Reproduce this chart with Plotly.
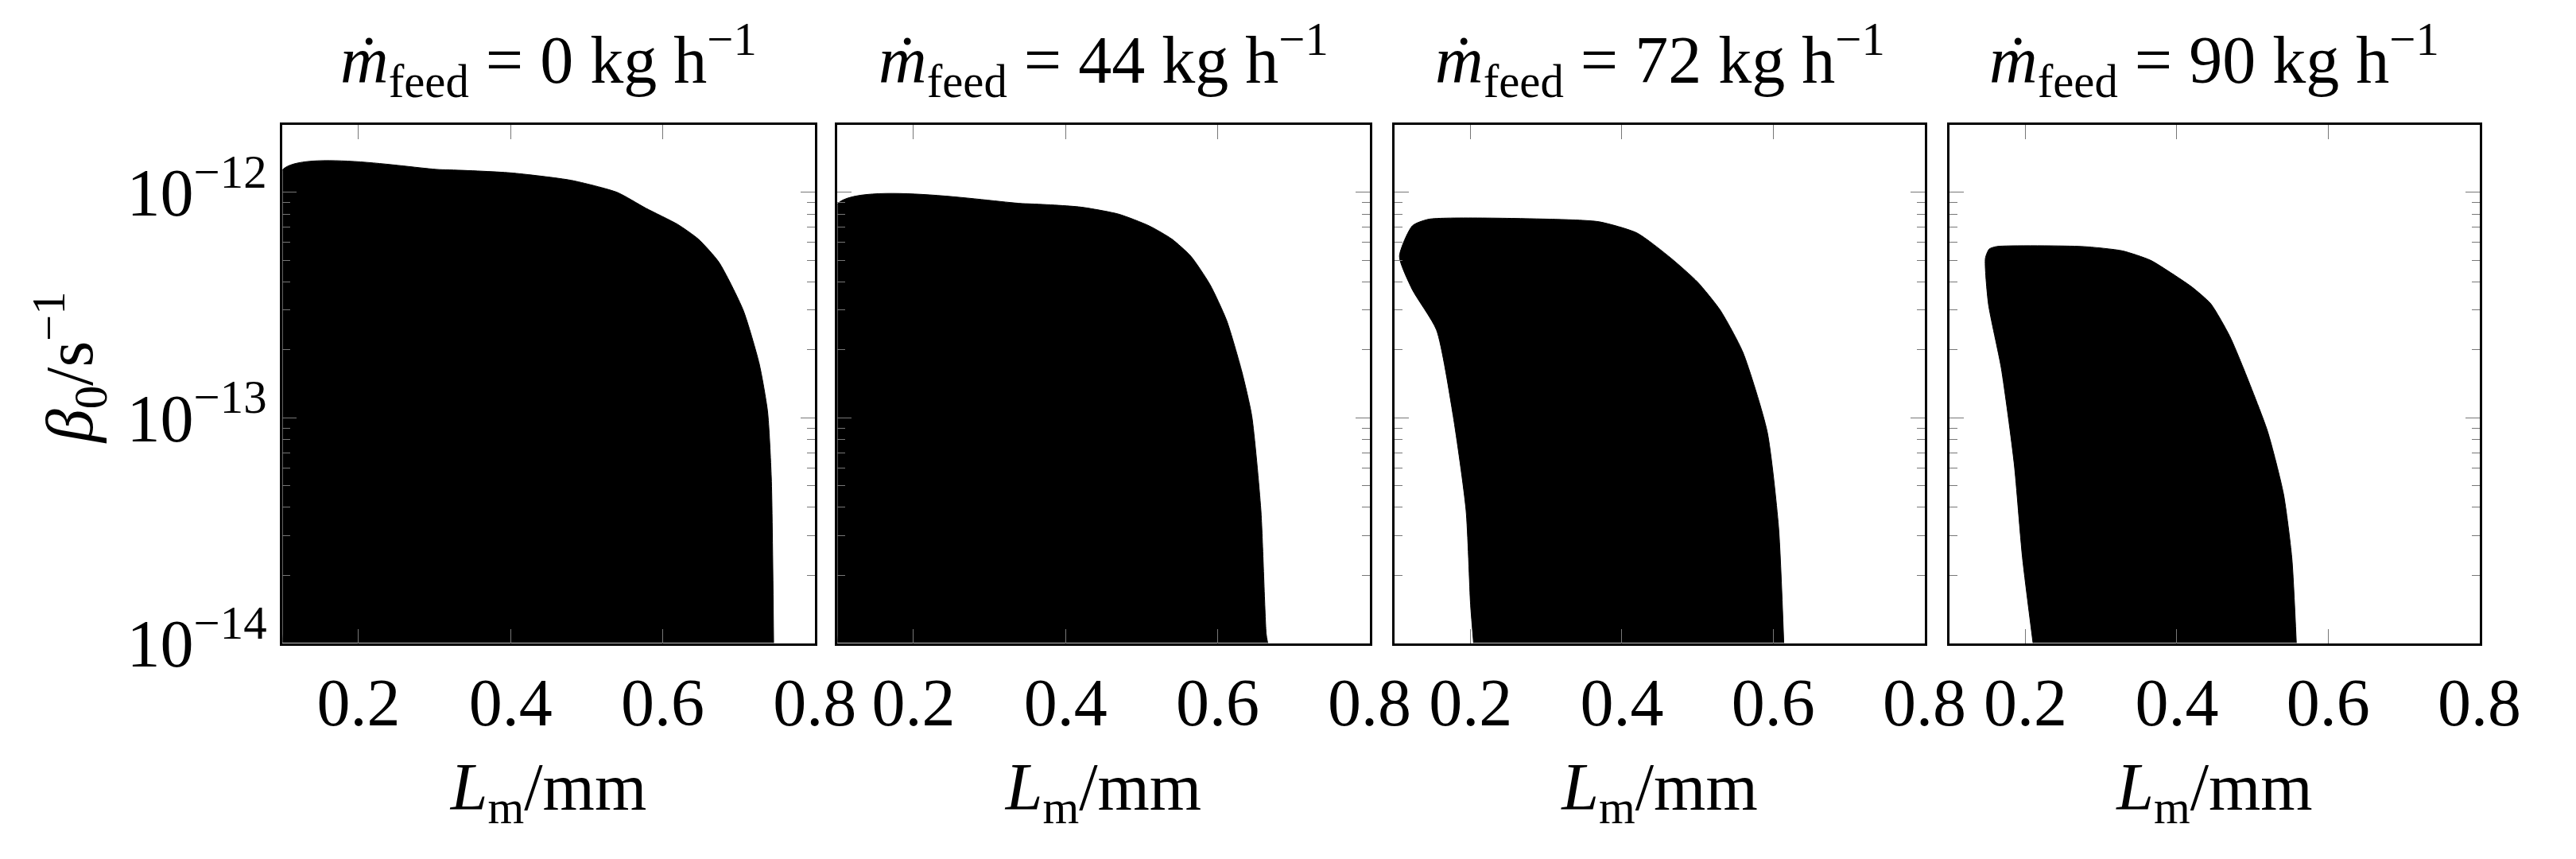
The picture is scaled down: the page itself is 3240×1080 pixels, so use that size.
import plotly.graph_objects as go

feed_rates = [0, 44, 72, 90]
x_ticks = [0.2, 0.4, 0.6, 0.8]
y_ticks = [1e-14, 1e-13, 1e-12]
y_ticktext = ["10<sup>−14</sup>", "10<sup>−13</sup>", "10<sup>−12</sup>"]

L0 = [0.1, 0.1, 0.31, 0.40, 0.48, 0.54, 0.578, 0.62, 0.647, 0.674, 0.706, 0.727, 0.738, 0.743, 0.746]
B0 = [1e-14, 1.26e-12, 1.26e-12, 1.22e-12, 1.13e-12, 1.0e-12, 8.5e-13, 7.2e-13, 6.2e-13, 4.9e-13, 3.0e-13, 1.74e-13, 1.07e-13, 5.4e-14, 1e-14]

L44 = [0.1, 0.1, 0.347, 0.42, 0.47, 0.51, 0.54, 0.565, 0.59, 0.612, 0.632, 0.645, 0.657, 0.664, 0.666]
B44 = [1e-14, 8.9e-13, 8.9e-13, 8.6e-13, 8.0e-13, 7.1e-13, 6.2e-13, 5.2e-13, 3.9e-13, 2.7e-13, 1.6e-13, 1.02e-13, 3.9e-14, 1.1e-14, 1e-14]

L72 = [0.204, 0.2, 0.194, 0.177, 0.155, 0.123, 0.106, 0.123, 0.145, 0.305, 0.37, 0.42, 0.465, 0.50, 0.53, 0.56, 0.592, 0.607, 0.614]
B72 = [1e-14, 1.48e-14, 3.9e-14, 1.02e-13, 2.45e-13, 3.7e-13, 5.2e-13, 7.1e-13, 7.6e-13, 7.6e-13, 7.4e-13, 6.6e-13, 5.1e-13, 4.0e-13, 3.0e-13, 1.95e-13, 8.7e-14, 3.3e-14, 1e-14]

L90 = [0.21, 0.196, 0.185, 0.168, 0.151, 0.147, 0.152, 0.162, 0.275, 0.328, 0.365, 0.392, 0.42, 0.445, 0.47, 0.488, 0.52, 0.541, 0.552, 0.558]
B90 = [1e-14, 2.4e-14, 6.3e-14, 1.66e-13, 3.2e-13, 5.1e-13, 5.6e-13, 5.75e-13, 5.75e-13, 5.5e-13, 5.0e-13, 4.4e-13, 3.8e-13, 3.2e-13, 2.3e-13, 1.66e-13, 8.7e-14, 4.6e-14, 2.4e-14, 1e-14]

regions = [(L0, B0), (L44, B44), (L72, B72), (L90, B90)]
domains = [(0.109, 0.319), (0.328, 0.538), (0.548, 0.757), (0.767, 0.976)]
FONT = "Liberation Serif"
FS = 84

fig = go.Figure()
for i, ((lx, by), dom) in enumerate(zip(regions, domains)):
    n = "" if i == 0 else str(i + 1)
    fig.add_trace(go.Scatter(x=lx, y=by, mode="lines", fill="toself", fillcolor="black",
                             line=dict(color="black", width=1, shape="spline", smoothing=0.6),
                             xaxis="x" + n, yaxis="y" + n,
                             showlegend=False, hoverinfo="skip"))
    fig.layout["xaxis" + n] = dict(domain=list(dom), range=[0.1, 0.8], anchor="y" + n,
                                   tickvals=x_ticks, ticktext=[str(t) for t in x_ticks],
                                   ticks="inside", ticklen=18, tickcolor="#777", mirror="allticks",
                                   showline=True, linecolor="black", linewidth=3, showgrid=False,
                                   zeroline=False, tickfont=dict(family=FONT, size=FS, color="black"),
                                   title=dict(text="<i>L</i><sub>m</sub>/mm", standoff=30,
                                              font=dict(family=FONT, size=FS, color="black")))
    fig.layout["yaxis" + n] = dict(domain=[0.225, 0.856], type="log", range=[-14, -11.7],
                                   anchor="x" + n, tickvals=y_ticks,
                                   ticktext=y_ticktext if i == 0 else ["", "", ""],
                                   showticklabels=(i == 0),
                                   ticks="inside", ticklen=18, tickcolor="#777", mirror="allticks",
                                   minor=dict(ticks="inside", ticklen=10, tickcolor="#777", dtick="D1"),
                                   showline=True, linecolor="black", linewidth=3, showgrid=False,
                                   tickfont=dict(family=FONT, size=FS, color="black"))
    fig.add_annotation(x=(dom[0] + dom[1]) / 2, y=0.875, xref="paper", yref="paper",
                       xanchor="center", yanchor="bottom",
                       text=f"<i>ṁ</i><sub>feed</sub> = {feed_rates[i]} kg h<sup>−1</sup>",
                       showarrow=False,
                       font=dict(family=FONT, size=FS, color="black"))

fig.add_annotation(x=0.025, y=0.56, xref="paper", yref="paper", textangle=-90,
                   xanchor="center", yanchor="middle",
                   text="<i>β</i><sub>0</sub>/s<sup>−1</sup>", showarrow=False,
                   font=dict(family=FONT, size=FS, color="black"))

fig.update_layout(width=3240, height=1080, margin=dict(l=0, r=0, t=0, b=0),
                  plot_bgcolor="white", paper_bgcolor="white")
fig.write_html("out.html")
